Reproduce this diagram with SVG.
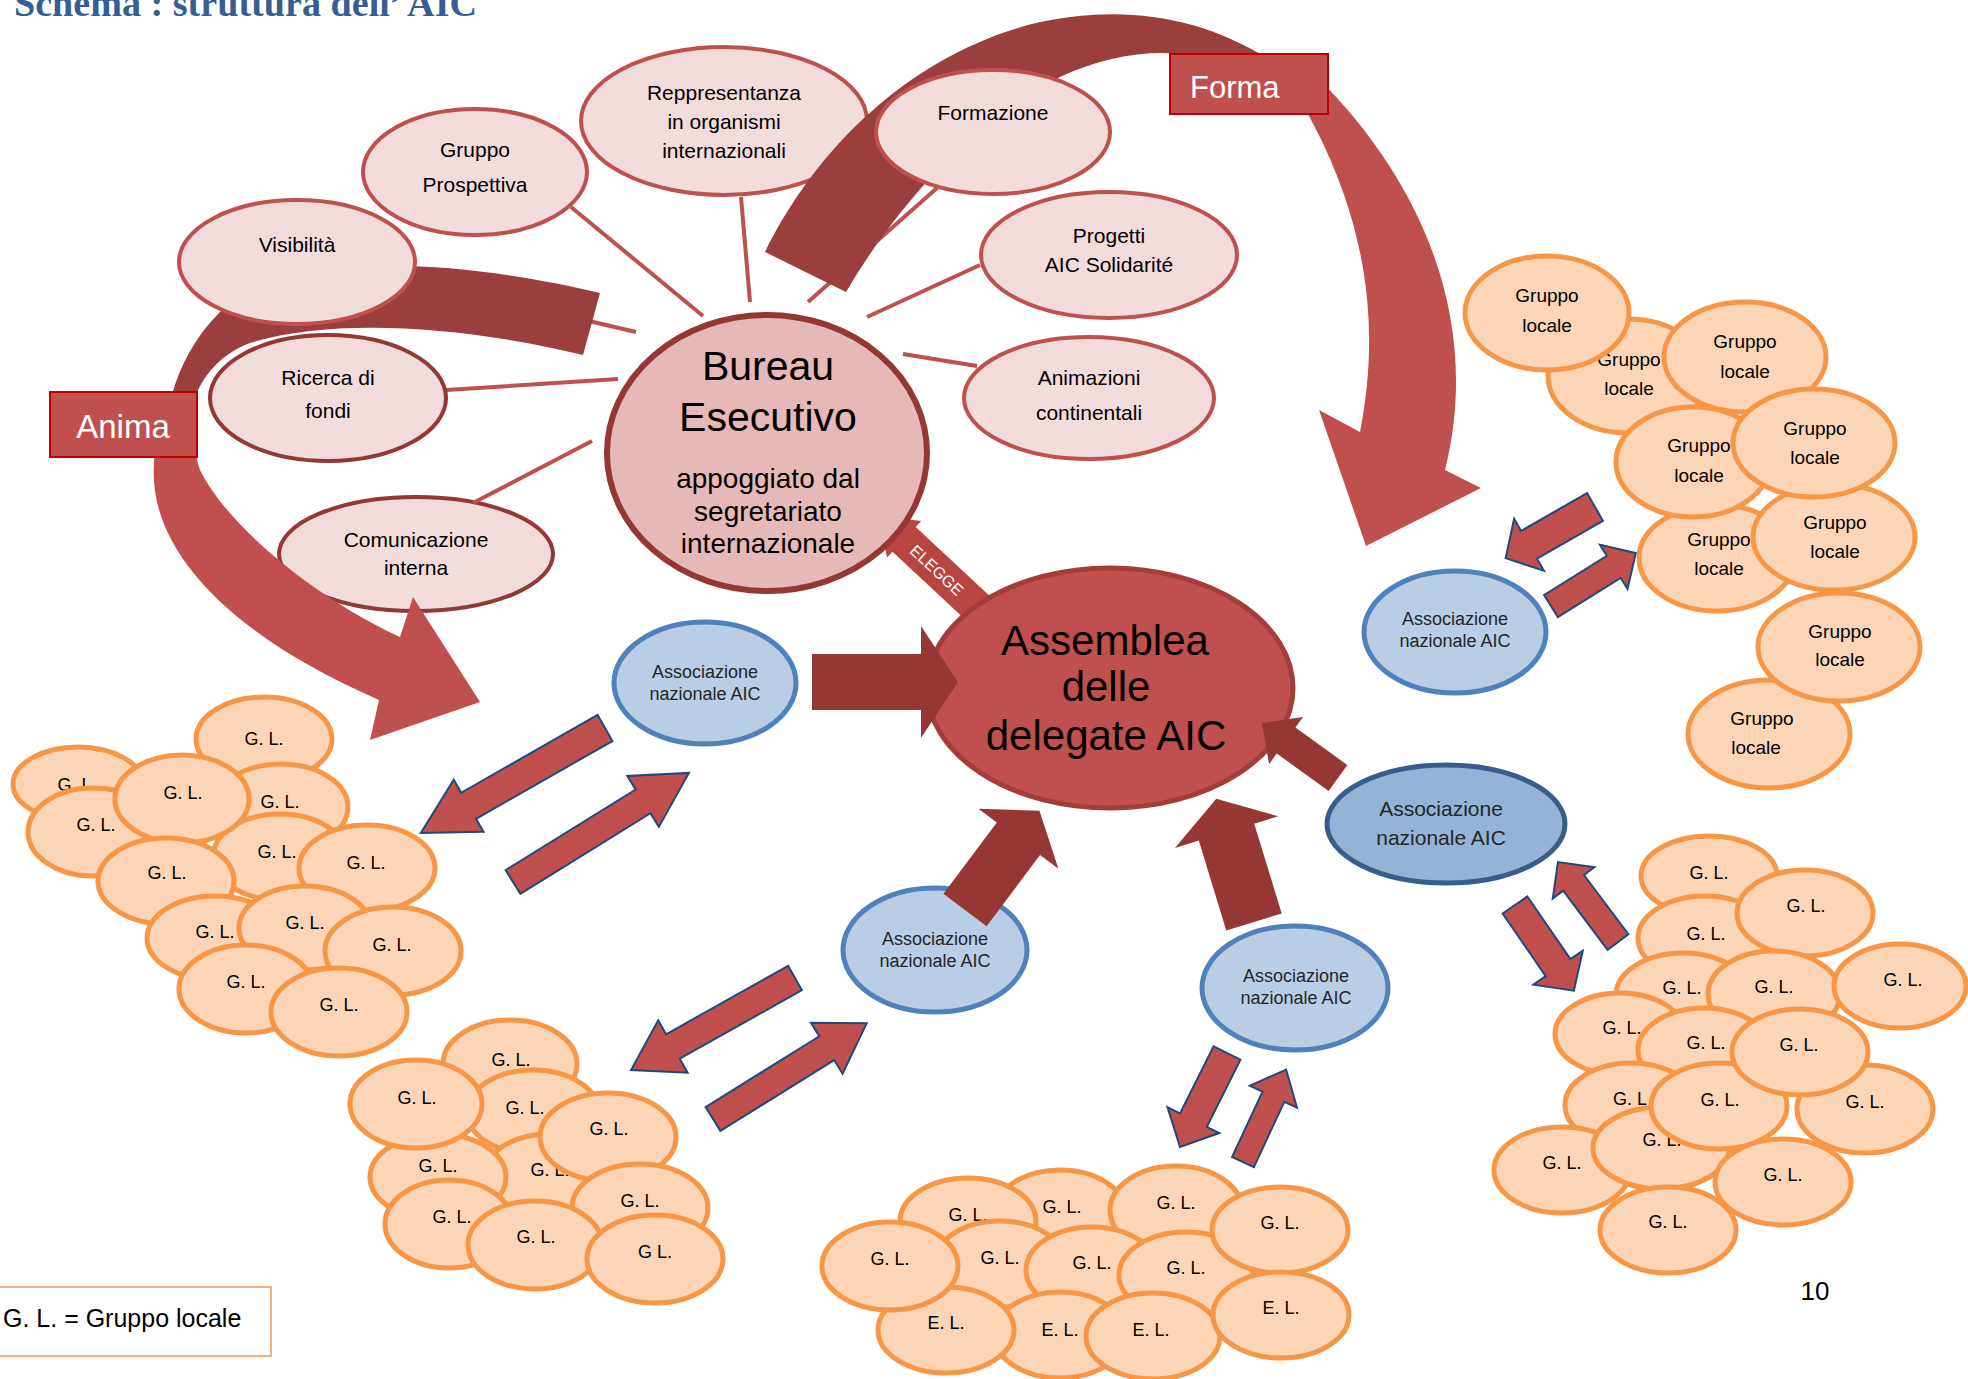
<svg xmlns="http://www.w3.org/2000/svg" width="1968" height="1379" viewBox="0 0 1968 1379">
<style>
text{font-family:"Liberation Sans",Arial,sans-serif;text-anchor:middle;fill:#000}
.pk{fill:#F2DCDB;stroke:#C0504D;stroke-width:4}
.pkd{fill:#F2DCDB;stroke:#953735;stroke-width:4}
.gl{fill:#FBD5B5;stroke:#F79646;stroke-width:5}
.as{fill:#B9CDE5;stroke:#4F81BD;stroke-width:5}
.lnk{stroke:#C0504D;stroke-width:4;fill:none}
.sa{fill:#C0504D;stroke:#1F497D;stroke-width:2}
.ta{fill:#953735}
.f21{font-size:21px}
.f18{font-size:18px}
.f19{font-size:19px}
.at{font-size:18px;fill:#262626}
</style>
<rect width="1968" height="1379" fill="#fff"/>
<g id="title"><text x="14" y="16" style="text-anchor:start;font-family:'Liberation Serif',serif;font-weight:bold;fill:#365F91" font-size="37" textLength="463" lengthAdjust="spacingAndGlyphs">Schema : struttura dell’ AIC</text></g>

<g id="node-reppresentanza"><ellipse class="pk" cx="724" cy="121" rx="143" ry="74"/><text class="f21" x="724" y="100">Reppresentanza</text><text class="f21" x="724" y="129">in organismi</text><text class="f21" x="724" y="158">internazionali</text></g>
<g id="node-comunicazione"><ellipse class="pkd" cx="416" cy="554" rx="137" ry="57"/><text class="f21" x="416" y="547">Comunicazione</text><text class="f21" x="416" y="575">interna</text></g>

<g id="connectors">
<line class="lnk" x1="405" y1="278" x2="636" y2="332"/>
<line class="lnk" x1="571" y1="207" x2="703" y2="316"/>
<line class="lnk" x1="741" y1="197" x2="750" y2="302"/>
<line class="lnk" x1="937" y1="188" x2="808" y2="302"/>
<line class="lnk" x1="980" y1="265" x2="867" y2="317"/>
<line class="lnk" x1="977" y1="366" x2="903" y2="354"/>
<line class="lnk" x1="446" y1="390" x2="618" y2="379"/>
<line class="lnk" x1="473" y1="503" x2="592" y2="441"/>
<path fill="#9B3F3E" d="M600,293 C470,262 290,245 219,313 C196,336 180,365 172,395 L196,395 C205,372 225,352 250,343 C330,318 460,325 583,355 Z"/>
<path fill="#9B3F3E" d="M765,252 C820,140 920,50 1040,22 C1120,5 1200,15 1270,60 L1255,78 C1200,45 1130,45 1060,77 C980,115 900,200 846,292 Z"/>
<path fill="#C0504D" d="M172,392 C160,420 152,450 154,480 C158,560 240,640 379,700 L370,740 L480,702 L413,597 L400,637 C320,600 230,530 200,470 C192,445 190,420 196,392 Z"/>
<path fill="#C0504D" d="M1318,78 C1430,190 1480,330 1445,470 L1481,488 L1366,546 L1319,410 L1360,432 C1380,330 1370,220 1300,100 Z"/>
<g transform="translate(937,570) rotate(43)"><polygon fill="#B8453F" points="-80,0 -45,-25 -45,-17 75,-17 75,17 -45,17 -45,25"/><text x="0" y="6" font-size="16" style="fill:#fff">ELEGGE</text></g>
</g>

<g id="node-visibilita"><ellipse class="pk" cx="297" cy="262" rx="118" ry="62"/><text class="f21" x="297" y="252">Visibilità</text></g>
<g id="node-ricerca"><ellipse class="pkd" cx="328" cy="398" rx="118" ry="63"/><text class="f21" x="328" y="385">Ricerca di</text><text class="f21" x="328" y="418">fondi</text></g>
<g id="node-prospettiva"><ellipse class="pk" cx="475" cy="172" rx="112" ry="63"/><text class="f21" x="475" y="157">Gruppo</text><text class="f21" x="475" y="192">Prospettiva</text></g>
<g id="node-formazione"><ellipse class="pk" cx="993" cy="132" rx="117" ry="62"/><text class="f21" x="993" y="120">Formazione</text></g>
<g id="node-progetti"><ellipse class="pk" cx="1109" cy="255" rx="128" ry="63"/><text class="f21" x="1109" y="243">Progetti</text><text class="f21" x="1109" y="272">AIC Solidarité</text></g>
<g id="node-animazioni"><ellipse class="pk" cx="1089" cy="398" rx="125" ry="61"/><text class="f21" x="1089" y="385">Animazioni</text><text class="f21" x="1089" y="420">continentali</text></g>

<g id="label-anima"><rect x="50" y="392" width="147" height="65" fill="#C0504D" stroke="#C00000" stroke-width="2"/><text x="123" y="438" font-size="33" style="fill:#fff">Anima</text></g>
<g id="label-forma"><rect x="1170" y="54" width="158" height="60" fill="#C0504D" stroke="#C00000" stroke-width="2"/><text x="1190" y="98" font-size="31" style="fill:#fff;text-anchor:start">Forma</text></g>

<g id="node-bureau"><ellipse cx="767" cy="453" rx="160" ry="138" fill="#E6B9B8" stroke="#953735" stroke-width="6"/><text x="768" y="380" font-size="41">Bureau</text><text x="768" y="431" font-size="41">Esecutivo</text><text x="768" y="488" font-size="28">appoggiato dal</text><text x="768" y="521" font-size="28">segretariato</text><text x="768" y="553" font-size="28">internazionale</text></g>
<g id="node-assemblea"><ellipse cx="1110" cy="688" rx="183" ry="120" fill="#C0504D" stroke="#A33D3A" stroke-width="5"/><text x="1105" y="655" font-size="42">Assemblea</text><text x="1106" y="701" font-size="42">delle</text><text x="1106" y="750" font-size="42">delegate AIC</text></g>

<g id="node-assoc-1"><ellipse class="as" cx="705" cy="683" rx="91" ry="61"/><text class="at" x="705" y="678">Associazione</text><text class="at" x="705" y="700">nazionale AIC</text></g>
<g id="node-assoc-2"><ellipse class="as" cx="1455" cy="632" rx="91" ry="61"/><text class="at" x="1455" y="625">Associazione</text><text class="at" x="1455" y="647">nazionale AIC</text></g>
<g id="node-assoc-3"><ellipse cx="1446" cy="824" rx="119" ry="59" fill="#95B3D7" stroke="#385D8A" stroke-width="5"/><text x="1441" y="816" font-size="21" style="fill:#262626">Associazione</text><text x="1441" y="845" font-size="21" style="fill:#262626">nazionale AIC</text></g>
<g id="node-assoc-4"><ellipse class="as" cx="935" cy="950" rx="92" ry="62"/><text class="at" x="935" y="945">Associazione</text><text class="at" x="935" y="967">nazionale AIC</text></g>
<g id="node-assoc-5"><ellipse class="as" cx="1295" cy="988" rx="93" ry="62"/><text class="at" x="1296" y="982">Associazione</text><text class="at" x="1296" y="1004">nazionale AIC</text></g>

<g id="cluster-left">
<g id="gl-l1"><ellipse class="gl" cx="264" cy="739" rx="68" ry="42"/><text class="f18" x="264" y="745">G. L.</text></g>
<g id="gl-l2"><ellipse class="gl" cx="78" cy="784" rx="65" ry="37"/><text class="f18" x="77" y="791">G. L.</text></g>
<g id="gl-l3"><ellipse class="gl" cx="93" cy="832" rx="65" ry="44"/><text class="f18" x="96" y="831">G. L.</text></g>
<g id="gl-l4"><ellipse class="gl" cx="281" cy="807" rx="67" ry="43"/><text class="f18" x="280" y="808">G. L.</text></g>
<g id="gl-l5"><ellipse class="gl" cx="280" cy="857" rx="67" ry="43"/><text class="f18" x="277" y="858">G. L.</text></g>
<g id="gl-l6"><ellipse class="gl" cx="182" cy="799" rx="67" ry="44"/><text class="f18" x="183" y="799">G. L.</text></g>
<g id="gl-l7"><ellipse class="gl" cx="367" cy="868" rx="68" ry="43"/><text class="f18" x="366" y="869">G. L.</text></g>
<g id="gl-l8"><ellipse class="gl" cx="166" cy="881" rx="68" ry="43"/><text class="f18" x="167" y="879">G. L.</text></g>
<g id="gl-l9"><ellipse class="gl" cx="215" cy="938" rx="68" ry="42"/><text class="f18" x="215" y="938">G. L.</text></g>
<g id="gl-l10"><ellipse class="gl" cx="305" cy="928" rx="66" ry="42"/><text class="f18" x="305" y="929">G. L.</text></g>
<g id="gl-l11"><ellipse class="gl" cx="393" cy="951" rx="68" ry="44"/><text class="f18" x="392" y="951">G. L.</text></g>
<g id="gl-l12"><ellipse class="gl" cx="246" cy="989" rx="67" ry="44"/><text class="f18" x="246" y="988">G. L.</text></g>
<g id="gl-l13"><ellipse class="gl" cx="339" cy="1012" rx="68" ry="44"/><text class="f18" x="339" y="1011">G. L.</text></g>
</g>

<g id="cluster-bottom-left">
<g id="gl-b1"><ellipse class="gl" cx="510" cy="1064" rx="67" ry="44"/><text class="f18" x="511" y="1066">G. L.</text></g>
<g id="gl-b2"><ellipse class="gl" cx="533" cy="1112" rx="66" ry="42"/><text class="f18" x="525" y="1114">G. L.</text></g>
<g id="gl-b3"><ellipse class="gl" cx="549" cy="1177" rx="66" ry="43"/><text class="f18" x="550" y="1176">G. L.</text></g>
<g id="gl-b4"><ellipse class="gl" cx="438" cy="1177" rx="68" ry="43"/><text class="f18" x="438" y="1172">G. L.</text></g>
<g id="gl-b5"><ellipse class="gl" cx="416" cy="1104" rx="66" ry="44"/><text class="f18" x="417" y="1104">G. L.</text></g>
<g id="gl-b6"><ellipse class="gl" cx="608" cy="1137" rx="68" ry="44"/><text class="f18" x="609" y="1135">G. L.</text></g>
<g id="gl-b7"><ellipse class="gl" cx="640" cy="1208" rx="68" ry="44"/><text class="f18" x="640" y="1207">G. L.</text></g>
<g id="gl-b8"><ellipse class="gl" cx="449" cy="1224" rx="64" ry="44"/><text class="f18" x="452" y="1223">G. L.</text></g>
<g id="gl-b9"><ellipse class="gl" cx="535" cy="1245" rx="67" ry="44"/><text class="f18" x="536" y="1243">G. L.</text></g>
<g id="gl-b10"><ellipse class="gl" cx="655" cy="1259" rx="68" ry="44"/><text class="f18" x="655" y="1258">G L.</text></g>
</g>

<g id="cluster-bottom">
<g id="gl-c2"><ellipse class="gl" cx="1060" cy="1213" rx="66" ry="43"/><text class="f18" x="1062" y="1213">G. L.</text></g>
<g id="gl-c1"><ellipse class="gl" cx="968" cy="1221" rx="68" ry="43"/><text class="f18" x="968" y="1221">G. L.</text></g>
<g id="gl-c3"><ellipse class="gl" cx="1176" cy="1210" rx="66" ry="44"/><text class="f18" x="1176" y="1209">G. L.</text></g>
<g id="gl-c6"><ellipse class="gl" cx="1000" cy="1264" rx="66" ry="43"/><text class="f18" x="1000" y="1264">G. L.</text></g>
<g id="gl-c7"><ellipse class="gl" cx="1092" cy="1270" rx="66" ry="43"/><text class="f18" x="1092" y="1269">G. L.</text></g>
<g id="gl-c8"><ellipse class="gl" cx="1186" cy="1275" rx="67" ry="43"/><text class="f18" x="1186" y="1274">G. L.</text></g>
<g id="gl-c10"><ellipse class="gl" cx="1060" cy="1335" rx="66" ry="43"/><text class="f18" x="1060" y="1336">E. L.</text></g>
<g id="gl-c9"><ellipse class="gl" cx="946" cy="1330" rx="68" ry="43"/><text class="f18" x="946" y="1329">E. L.</text></g>
<g id="gl-c5"><ellipse class="gl" cx="890" cy="1266" rx="68" ry="44"/><text class="f18" x="890" y="1265">G. L.</text></g>
<g id="gl-c11"><ellipse class="gl" cx="1153" cy="1336" rx="67" ry="43"/><text class="f18" x="1151" y="1336">E. L.</text></g>
<g id="gl-c4"><ellipse class="gl" cx="1280" cy="1230" rx="68" ry="43"/><text class="f18" x="1280" y="1229">G. L.</text></g>
<g id="gl-c12"><ellipse class="gl" cx="1281" cy="1315" rx="68" ry="43"/><text class="f18" x="1281" y="1314">E. L.</text></g>
</g>

<g id="cluster-right-bottom">
<g id="gl-r1"><ellipse class="gl" cx="1709" cy="876" rx="68" ry="40"/><text class="f18" x="1709" y="879">G. L.</text></g>
<g id="gl-r3"><ellipse class="gl" cx="1705" cy="938" rx="67" ry="42"/><text class="f18" x="1706" y="940">G. L.</text></g>
<g id="gl-r2"><ellipse class="gl" cx="1805" cy="913" rx="68" ry="43"/><text class="f18" x="1806" y="912">G. L.</text></g>
<g id="gl-r5"><ellipse class="gl" cx="1683" cy="995" rx="67" ry="42"/><text class="f18" x="1682" y="994">G. L.</text></g>
<g id="gl-r6"><ellipse class="gl" cx="1774" cy="994" rx="66" ry="43"/><text class="f18" x="1774" y="993">G. L.</text></g>
<g id="gl-r4"><ellipse class="gl" cx="1900" cy="986" rx="66" ry="42"/><text class="f18" x="1903" y="986">G. L.</text></g>
<g id="gl-r7"><ellipse class="gl" cx="1620" cy="1034" rx="65" ry="41"/><text class="f18" x="1622" y="1034">G. L.</text></g>
<g id="gl-r8"><ellipse class="gl" cx="1704" cy="1050" rx="66" ry="42"/><text class="f18" x="1706" y="1049">G. L.</text></g>
<g id="gl-r10"><ellipse class="gl" cx="1631" cy="1105" rx="66" ry="42"/><text class="f18" x="1630" y="1105">G. L</text></g>
<g id="gl-r13"><ellipse class="gl" cx="1562" cy="1170" rx="68" ry="43"/><text class="f18" x="1562" y="1169">G. L.</text></g>
<g id="gl-r14"><ellipse class="gl" cx="1661" cy="1148" rx="68" ry="41"/><text class="f18" x="1662" y="1146">G. L.</text></g>
<g id="gl-r11"><ellipse class="gl" cx="1719" cy="1106" rx="68" ry="43"/><text class="f18" x="1720" y="1106">G. L.</text></g>
<g id="gl-r12"><ellipse class="gl" cx="1865" cy="1109" rx="68" ry="44"/><text class="f18" x="1865" y="1108">G. L.</text></g>
<g id="gl-r9"><ellipse class="gl" cx="1800" cy="1052" rx="68" ry="43"/><text class="f18" x="1799" y="1051">G. L.</text></g>
<g id="gl-r15"><ellipse class="gl" cx="1783" cy="1182" rx="68" ry="43"/><text class="f18" x="1783" y="1181">G. L.</text></g>
<g id="gl-r16"><ellipse class="gl" cx="1668" cy="1230" rx="68" ry="43"/><text class="f18" x="1668" y="1228">G. L.</text></g>
</g>

<g id="cluster-right-top">
<g id="gr-2"><ellipse class="gl" cx="1628" cy="376" rx="80" ry="57"/><text class="f19" x="1629" y="366">Gruppo</text><text class="f19" x="1629" y="395">locale</text></g>
<g id="gr-1"><ellipse class="gl" cx="1547" cy="313" rx="82" ry="57"/><text class="f19" x="1547" y="302">Gruppo</text><text class="f19" x="1547" y="332">locale</text></g>
<g id="gr-3"><ellipse class="gl" cx="1745" cy="357" rx="81" ry="55"/><text class="f19" x="1745" y="348">Gruppo</text><text class="f19" x="1745" y="378">locale</text></g>
<g id="gr-6"><ellipse class="gl" cx="1717" cy="558" rx="78" ry="53"/><text class="f19" x="1719" y="546">Gruppo</text><text class="f19" x="1719" y="575">locale</text></g>
<g id="gr-7"><ellipse class="gl" cx="1834" cy="537" rx="81" ry="53"/><text class="f19" x="1835" y="529">Gruppo</text><text class="f19" x="1835" y="558">locale</text></g>
<g id="gr-4"><ellipse class="gl" cx="1693" cy="462" rx="77" ry="55"/><text class="f19" x="1699" y="452">Gruppo</text><text class="f19" x="1699" y="482">locale</text></g>
<g id="gr-5"><ellipse class="gl" cx="1814" cy="443" rx="81" ry="54"/><text class="f19" x="1815" y="435">Gruppo</text><text class="f19" x="1815" y="464">locale</text></g>
<g id="gr-9"><ellipse class="gl" cx="1769" cy="734" rx="81" ry="54"/><text class="f19" x="1762" y="725">Gruppo</text><text class="f19" x="1756" y="754">locale</text></g>
<g id="gr-8"><ellipse class="gl" cx="1839" cy="647" rx="81" ry="54"/><text class="f19" x="1840" y="638">Gruppo</text><text class="f19" x="1840" y="666">locale</text></g>
</g>

<g id="connectors-front">
<polygon class="ta" points="812,654 921,654 921,626 958,682 921,738 921,710 812,710"/>
<polygon class="ta" transform="translate(965,910) rotate(-53.1)" points="0,-27 89,-27 89,-50 124,0 89,50 89,27 0,27"/>
<polygon class="ta" transform="translate(1254,922) rotate(-107)" points="0,-29 94,-29 94,-54 129,0 94,54 94,29 0,29"/>
<polygon class="ta" transform="translate(1338,778) rotate(215.8)" points="0,-16 64,-16 64,-29 94,0 64,29 64,16 0,16"/>
<polygon class="sa" transform="translate(605,728) rotate(150.3)" points="0,-15 157,-15 157,-30 212,0 157,30 157,15 0,15"/>
<polygon class="sa" transform="translate(513,882) rotate(-31.8)" points="0,-14 153,-14 153,-30 207,0 153,30 153,14 0,14"/>
<polygon class="sa" transform="translate(795,978) rotate(150.7)" points="0,-14 140,-14 140,-30 188,0 140,30 140,14 0,14"/>
<polygon class="sa" transform="translate(713,1119) rotate(-31.9)" points="0,-14 134,-14 134,-30 181,0 134,30 134,14 0,14"/>
<polygon class="sa" transform="translate(1227,1053) rotate(116.6)" points="0,-15 75,-15 75,-29 105,0 75,29 75,15 0,15"/>
<polygon class="sa" transform="translate(1243,1162) rotate(-65)" points="0,-12 72,-12 72,-26 102,0 72,26 72,12 0,12"/>
<polygon class="sa" transform="translate(1595,507) rotate(150.2)" points="0,-16 76,-16 76,-30 103,0 76,30 76,16 0,16"/>
<polygon class="sa" transform="translate(1551,606) rotate(-32)" points="0,-13 74,-13 74,-26 100,0 74,26 74,13 0,13"/>
<polygon class="sa" transform="translate(1618,942) rotate(-126.9)" points="0,-13 74,-13 74,-26 100,0 74,26 74,13 0,13"/>
<polygon class="sa" transform="translate(1515,905) rotate(55.5)" points="0,-15 76,-15 76,-30 104,0 76,30 76,15 0,15"/>
</g>

<g id="legend"><rect x="-1" y="1287" width="272" height="69" fill="#fff" stroke="#F79646" stroke-width="1.5"/><text x="3" y="1327" font-size="25" style="text-anchor:start">G. L. = Gruppo locale</text></g>
<g id="page-number"><text x="1815" y="1300" font-size="26">10</text></g>
</svg>
